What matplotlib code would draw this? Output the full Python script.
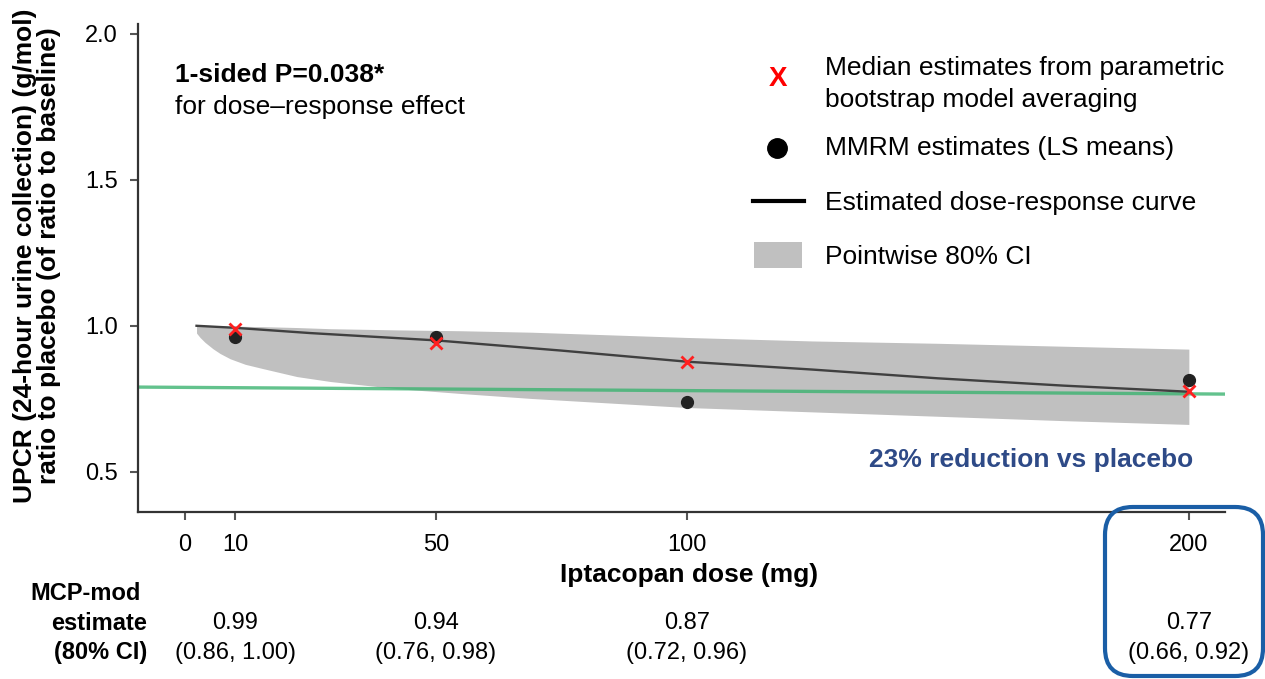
import matplotlib
matplotlib.use("Agg")
import matplotlib.pyplot as plt
from matplotlib import transforms
from matplotlib.lines import Line2D
from matplotlib.patches import Rectangle, FancyBboxPatch

plt.rcParams['font.family'] = ['Liberation Sans', 'DejaVu Sans']

W, H = 1265, 679


def fx(x):
    return x / W


def fy(y):
    return 1 - y / H


# point estimates per dose
doses = [10, 50, 100, 200]
median_est = [0.99, 0.94, 0.877, 0.775]
mmrm_est = [0.963, 0.963, 0.74, 0.815]
mcp_est = ["0.99", "0.94", "0.87", "0.77"]
mcp_ci = ["(0.86, 1.00)", "(0.76, 0.98)", "(0.72, 0.96)", "(0.66, 0.92)"]

# estimated dose-response curve
curve_dose = [2.3, 10, 25, 50, 75, 100, 125, 150, 175, 200]
curve_val = [1.0, 0.993, 0.975, 0.95, 0.915, 0.877, 0.85, 0.82, 0.795, 0.774]

# pointwise 80% CI
band_dose = [2.3, 3, 4, 5.6, 7, 9, 12, 15.6, 22.3, 29, 42, 55, 69,
             100, 125, 150, 175, 200]
band_lo = [0.975, 0.96, 0.943, 0.921, 0.905, 0.887, 0.868, 0.853, 0.826,
           0.809, 0.785, 0.768, 0.751, 0.72, 0.705, 0.69, 0.675, 0.662]
band_hi = [1.0, 1.0, 1.0, 1.0, 1.0, 0.999, 0.998, 0.997, 0.994, 0.99,
           0.986, 0.983, 0.978, 0.96, 0.948, 0.94, 0.93, 0.92]

# green reference line (23% reduction)
ref_dose = [-9.5, 207]
ref_val = [0.79, 0.766]

fig = plt.figure(figsize=(W / 100, H / 100), dpi=100)
ax = fig.add_axes([fx(137.5), fy(511.7), (1225 - 137.5) / W, (511.7 - 24) / H])

ax.fill_between(band_dose, band_lo, band_hi, color='#c0c0c0', lw=0, zorder=1)
ax.plot(ref_dose, ref_val, color='#3cb371', lw=2.4, alpha=0.8, zorder=2)
ax.plot(curve_dose, curve_val, color='#404040', lw=1.7, zorder=3)
ax.plot(doses, mmrm_est, 'o', color='#222222', ms=8.5, zorder=4)
ax.plot(doses, median_est, 'x', color='#ff2020', ms=8.5, mew=2, zorder=5)

ax.set_xlim(-9.46, 207.2)
ax.set_ylim(0.363, 2.034)
ax.set_xticks([0, 10, 50, 100, 200])
ax.set_yticks([0.5, 1.0, 1.5, 2.0])
ax.set_yticklabels(['0.5', '1.0', '1.5', '2.0'])
ax.tick_params(direction='out', length=6, width=1.5, color='#555555',
               labelsize=17, pad=8)
ax.tick_params(axis='x', pad=10)
for s in ['top', 'right']:
    ax.spines[s].set_visible(False)
for s in ['left', 'bottom']:
    ax.spines[s].set_linewidth(1.6)
    ax.spines[s].set_color('#333333')

fig.text(fx(37), fy(256),
         "UPCR (24-hour urine collection) (g/mol)\nratio to placebo (of ratio to baseline)",
         rotation=90, ha='center', va='center', multialignment='center',
         fontsize=19, fontweight='bold', linespacing=1.0)
fig.text(fx(689), fy(575), "Iptacopan dose (mg)", ha='center', va='center',
         fontsize=19, fontweight='bold')

fig.text(fx(175), fy(75), "1-sided P=0.038*", ha='left', va='center',
         fontsize=19, fontweight='bold')
fig.text(fx(175), fy(107), "for dose\u2013response effect", ha='left', va='center',
         fontsize=19)

fig.text(fx(1031), fy(460), "23% reduction vs placebo", ha='center', va='center',
         fontsize=19, fontweight='bold', color='#2e4a87')

# legend
fig.text(fx(778), fy(79), "X", ha='center', va='center', fontsize=20,
         fontweight='bold', color='#ff0000')
fig.add_artist(Line2D([fx(777)], [fy(148)], marker='o', color='black', ms=14,
                      transform=fig.transFigure))
fig.add_artist(Line2D([fx(753), fx(804)], [fy(201), fy(201)], color='black',
                      lw=3, transform=fig.transFigure))
fig.add_artist(Rectangle((fx(754), fy(268)), (802 - 754) / W, (268 - 242) / H,
                         color='#c0c0c0', lw=0, transform=fig.transFigure))
leg_txt = [("Median estimates from parametric", 68),
           ("bootstrap model averaging", 100),
           ("MMRM estimates (LS means)", 148),
           ("Estimated dose-response curve", 203),
           ("Pointwise 80% CI", 257)]
for t, y in leg_txt:
    fig.text(fx(825), fy(y), t, ha='left', va='center', fontsize=19)

# table under the axis
fig.text(fx(141), fy(593), "MCP-mod", ha='right', va='center', fontsize=17,
         fontweight='bold')
fig.text(fx(147), fy(623), "estimate", ha='right', va='center', fontsize=17,
         fontweight='bold')
fig.text(fx(147), fy(653), "(80% CI)", ha='right', va='center', fontsize=17,
         fontweight='bold')
trans = transforms.blended_transform_factory(ax.transData, fig.transFigure)
for d, e, ci in zip(doses, mcp_est, mcp_ci):
    ax.text(d, fy(623), e, transform=trans, ha='center', va='center',
            fontsize=17, clip_on=False)
    ax.text(d, fy(653), ci, transform=trans, ha='center', va='center',
            fontsize=17, clip_on=False)

# highlight box around the 200 mg column
box = FancyBboxPatch((fx(1105), fy(676)), (1263 - 1105) / W, (676 - 507) / H,
                     boxstyle="round,pad=0,rounding_size=0.022",
                     fill=False, ec='#1a5ea6', lw=3,
                     transform=fig.transFigure, mutation_aspect=W / H)
fig.add_artist(box)

fig.savefig("out.png", dpi=100)
